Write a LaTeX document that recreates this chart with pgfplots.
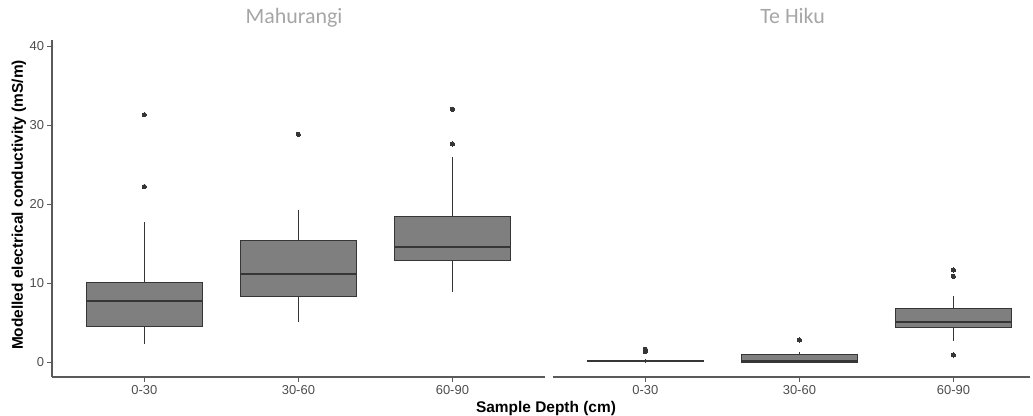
\documentclass[border=0pt]{standalone}
\usepackage{fontspec}
\setmainfont{Liberation Sans}
\newfontfamily\carlito{Carlito}
\usepackage{pgfplots}
\pgfplotsset{compat=1.18}
\usepgfplotslibrary{statistics}
\definecolor{boxfill}{HTML}{7F7F7F}
\definecolor{boxline}{HTML}{363636}
\definecolor{axline}{HTML}{5A5A5A}
\definecolor{ticktext}{HTML}{4D4D4D}
\definecolor{titlegray}{HTML}{A6A6A6}
\pgfplotsset{
  panel/.style={
    scale only axis, x=154bp, y=7.9bp,
    ymin=-1.9, ymax=40.8, xmin=0.4,
    axis x line*=bottom,
    axis line style={-, draw=axline, line width=1.2bp},
    xtick={1,2,3}, xticklabels={0-30,30-60,60-90},
    tick style={draw=axline, line width=0.9bp},
    tick align=outside, major tick length=4.5bp,
    ticklabel style={font=\fontsize{13}{15}\selectfont, text=ticktext},
    /pgf/number format/assume math mode=true,
    clip=false,
    boxplot/draw direction=y,
    boxplot/box extend=0.75,
    boxplot/whisker extend=0,
    boxplot/every box/.style={fill=boxfill, draw=boxline, line width=0.9bp},
    boxplot/every whisker/.style={draw=boxline, line width=0.9bp},
    boxplot/every median/.style={draw=boxline, line width=2bp},
    title style={font=\carlito\fontsize{22}{24}\selectfont, text=titlegray, anchor=base, yshift=10bp},
  },
  bx/.style={draw=boxline, mark=*, mark size=2.1bp, mark options={fill=boxline, draw=boxline, line width=0pt}},
}
\begin{document}
\begin{tikzpicture}
\useasboundingbox (0,0) rectangle (1033bp,416bp);
\begin{axis}[panel, at={(52bp,39bp)}, anchor=south west, xmax=3.6,
  axis y line*=left, ytick={0,10,20,30,40},
  ylabel={\bfseries Modelled electrical conductivity (mS/m)},
  ylabel style={at={(axis description cs:-0.067,0.51)}, anchor=center, font=\fontsize{15.5}{17}\selectfont, text=black},
  title={Mahurangi}, title style={at={(axis description cs:0.491,1)}}]
\addplot[bx, boxplot prepared={draw position=1, median=7.72, upper quartile=10.09, lower quartile=4.52, upper whisker=17.7, lower whisker=2.28}]
  table[row sep=\\, y index=0] {v\\ 31.3\\ 22.2\\};
\addplot[bx, boxplot prepared={draw position=2, median=11.14, upper quartile=15.44, lower quartile=8.35, upper whisker=19.2, lower whisker=5.02}]
  table[row sep=\\, y index=0] {v\\ 28.8\\};
\addplot[bx, boxplot prepared={draw position=3, median=14.6, upper quartile=18.44, lower quartile=12.87, upper whisker=26.0, lower whisker=8.82}]
  table[row sep=\\, y index=0] {v\\ 32.0\\ 27.6\\};
\end{axis}
\begin{axis}[panel, at={(553bp,39bp)}, anchor=south west, xmax=3.5,
  axis y line=none, ytick=\empty,
  title={Te Hiku}, title style={at={(axis description cs:0.502,1)}}]
\addplot[bx, boxplot prepared={draw position=1, median=0.08, upper quartile=0.2, lower quartile=0.02, upper whisker=0.35, lower whisker=0.0}]
  table[row sep=\\, y index=0] {v\\ 1.6\\ 1.3\\};
\addplot[bx, boxplot prepared={draw position=2, median=0.1, upper quartile=0.97, lower quartile=0.0, upper whisker=1.3, lower whisker=0.0}]
  table[row sep=\\, y index=0] {v\\ 2.78\\};
\addplot[bx, boxplot prepared={draw position=3, median=5.06, upper quartile=6.8, lower quartile=4.43, upper whisker=8.35, lower whisker=2.7}]
  table[row sep=\\, y index=0] {v\\ 11.65\\ 10.85\\ 0.89\\};
\end{axis}
\node[anchor=base, font=\bfseries\fontsize{15.5}{17}\selectfont] at (546bp,4bp) {Sample Depth (cm)};
\end{tikzpicture}
\end{document}
